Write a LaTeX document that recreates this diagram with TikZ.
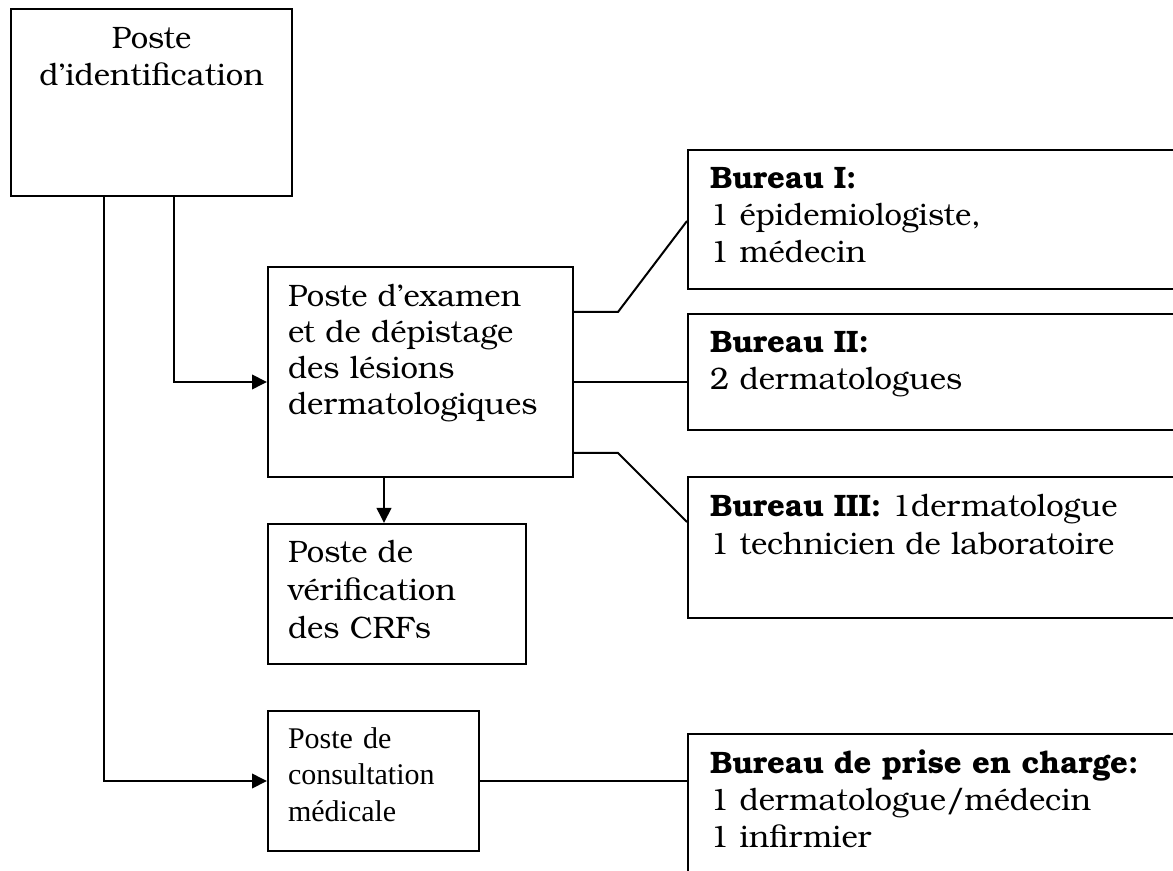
\documentclass[tikz,border=0pt]{standalone}
\usepackage{fontspec}
\setmainfont{texgyrebonum}[Extension=.otf, UprightFont=*-regular, BoldFont=*-bold]
\newfontfamily\timesfont{Liberation Serif}
\usetikzlibrary{arrows.meta, positioning}

\tikzset{
  poste/.style={draw, line width=0.8pt, anchor=north west, inner ysep=0pt,
    inner xsep=8pt, align=left, font={\fontsize{12.4pt}{14.3pt}\selectfont}},
  bureau/.style={poste, inner xsep=8.8pt, text width=187.6pt,
    font={\fontsize{12.4pt}{14.8pt}\selectfont}},
  lien/.style={line width=0.8pt},
  fleche/.style={lien, -{Triangle[length=6pt,width=5.8pt]}}
}

\begin{document}
\begin{tikzpicture}[x=0.4pt, y=-0.4pt]
  \useasboundingbox (0,0) rectangle (1173,871);
  \clip (0,0) rectangle (1173,871);

  % postes
  \node[poste, align=center, text width=96.4pt, text height=16pt, text depth=58.8pt,
    font={\fontsize{12.4pt}{14.8pt}\selectfont}] (ident) at (10,8)
    {Poste\\d'identification};
  \node[poste, text width=106pt, text height=16pt, text depth=68pt] (exam) at (267,266)
    {Poste d'examen\\et de dépistage\\des lésions\\dermatologiques};
  \node[poste, text width=87.2pt, text height=15.6pt, text depth=40.4pt,
    font={\fontsize{12.4pt}{15pt}\selectfont}] (verif) at (267,523)
    {Poste de\\vérification\\des CRFs};
  \node[poste, text width=68.4pt, text height=14.8pt, text depth=41.2pt,
    font={\timesfont\fontsize{12pt}{14.6pt}\selectfont}] (consult) at (267,710)
    {Poste de\\consultation\\médicale};

  % bureaux
  \node[bureau, text height=15.6pt, text depth=40pt] (b1) at (687,149)
    {\textbf{Bureau I:}\\1 épidemiologiste,\\1 médecin};
  \node[bureau, text height=15.6pt, text depth=30.8pt] (b2) at (687,313)
    {\textbf{Bureau II:}\\2 dermatologues};
  \node[bureau, text height=16pt, text depth=40.4pt] (b3) at (687,476)
    {\textbf{Bureau III:} 1dermatologue\\1 technicien de laboratoire};
  \node[bureau, text height=15.6pt, text depth=60pt] (b4) at (687,733)
    {\textbf{Bureau de prise en charge:}\\1 dermatologue/médecin\\1 infirmier};

  % liaisons
  \draw[fleche] (ident.south -| 174,0) |- (exam.west |- 0,382);
  \draw[fleche] (ident.south -| 104,0) |- (consult.west);
  \draw[fleche] (exam.south -| 384,0) -- (verif.north -| 384,0);
  \draw[lien] (exam.east |- 0,312) -- (618,312) -- (b1.west |- 0,221);
  \draw[lien] (exam.east |- 0,382) -- (b2.west |- 0,382);
  \draw[lien] (exam.east |- 0,453) -- (618,453) -- (b3.west |- 0,522);
  \draw[lien] (consult.east) -- (b4.west |- consult.east);
\end{tikzpicture}
\end{document}
